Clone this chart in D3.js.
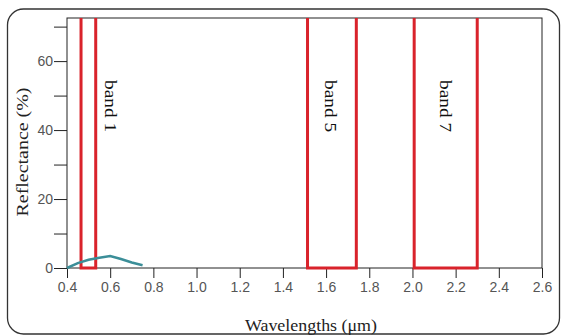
<!DOCTYPE html>
<html>
<head>
<meta charset="utf-8">
<script src="https://cdn.jsdelivr.net/npm/d3@7"></script>
<style>
  body { margin: 0; background: #fff; }
  svg { display: block; }
</style>
</head>
<body>
<div id="wrapper"></div>
<script>
// data
const wavelengths = [0.4, 0.45, 0.5, 0.55, 0.6, 0.65, 0.7, 0.75]
const reflectance = [0, 1.4, 2.4, 3.0, 3.5, 2.6, 1.6, 0.8]
const bandNames = ["band 1", "band 5", "band 7"]
const bandStart = [0.465, 1.514, 2.008]
const bandEnd = [0.533, 1.740, 2.300]
const bandLabelAt = [0.603, 1.622, 2.155]
const xTicks = [0.4, 0.6, 0.8, 1.0, 1.2, 1.4, 1.6, 1.8, 2.0, 2.2, 2.4, 2.6]
const yTicks = [0, 10, 20, 30, 40, 50, 60, 70]

const dimensions = {
    width: 561, height: 336,
    margins: {top: 18, bottom: 68, left: 67, right: 19}
}
dimensions.boundsWidth = dimensions.width - dimensions.margins.left - dimensions.margins.right
dimensions.boundsHeight = dimensions.height - dimensions.margins.top - dimensions.margins.bottom

const wrapper = d3.select("#wrapper").append("svg")
    .attr("width", dimensions.width)
    .attr("height", dimensions.height)

// outer rounded frame
wrapper.append("rect")
    .attr("x", 7.5).attr("y", 9)
    .attr("width", 552).attr("height", 325)
    .attr("rx", 16)
    .attr("fill", "none")
    .attr("stroke", "#333")
    .attr("stroke-width", 1.3)

const bounds = wrapper.append("g")
    .attr("transform", `translate(${dimensions.margins.left},${dimensions.margins.top})`)

// scales
const xScale = d3.scaleLinear()
    .domain([0.4, 2.6])
    .range([0, dimensions.boundsWidth])
const yScale = d3.scaleLinear()
    .domain([0, 72.5])
    .range([dimensions.boundsHeight, 0])

const tickFont = "'Liberation Sans', Arial, sans-serif"
const titleFont = "'Liberation Serif', 'Times New Roman', serif"

// axes
const yAxis = bounds.append("g")
    .call(d3.axisLeft(yScale).tickValues(yTicks).tickSize(13).tickPadding(1)
        .tickFormat(d => d % 20 === 0 ? d : ""))
yAxis.select(".domain").remove()
yAxis.selectAll("line").attr("stroke", "#222")
yAxis.selectAll("text").attr("font-family", tickFont).attr("font-size", 14).attr("fill", "#555")

const xAxis = bounds.append("g")
    .attr("transform", `translate(0,${dimensions.boundsHeight})`)
    .call(d3.axisBottom(xScale).tickValues(xTicks).tickSize(10).tickPadding(4)
        .tickFormat(d3.format(".1f")))
xAxis.select(".domain").remove()
xAxis.selectAll("line").attr("stroke", "#222")
xAxis.selectAll("text").attr("font-family", tickFont).attr("font-size", 14).attr("fill", "#555")

// plot frame
bounds.append("rect")
    .attr("width", dimensions.boundsWidth)
    .attr("height", dimensions.boundsHeight)
    .attr("fill", "none")
    .attr("stroke", "#222")
    .attr("stroke-width", 1)

// bands
const bands = bandNames.map((name, i) => ({name, start: bandStart[i], end: bandEnd[i], label: bandLabelAt[i]}))
bounds.selectAll(".band").data(bands).enter().append("path")
    .attr("class", "band")
    .attr("d", d => `M${xScale(d.start)},${yScale(72.5)}V${yScale(0)}H${xScale(d.end)}V${yScale(72.5)}`)
    .attr("fill", "none")
    .attr("stroke", "#d9232b")
    .attr("stroke-width", 3)

bounds.selectAll(".bandLabel").data(bands).enter().append("text")
    .attr("class", "bandLabel")
    .attr("transform", d => `translate(${xScale(d.label)},${yScale(54.5)}) rotate(90)`)
    .attr("dy", "0.32em")
    .attr("font-family", titleFont)
    .attr("font-size", 17)
    .attr("textLength", 52)
    .attr("lengthAdjust", "spacingAndGlyphs")
    .attr("fill", "#111")
    .text(d => d.name)

// reflectance curve
const points = wavelengths.map((w, i) => ({w, r: reflectance[i]}))
bounds.append("path")
    .datum(points)
    .attr("d", d3.line().x(d => xScale(d.w)).y(d => yScale(d.r)))
    .attr("fill", "none")
    .attr("stroke", "#3b8e98")
    .attr("stroke-width", 2.5)

// axis titles
wrapper.append("text")
    .attr("x", 311).attr("y", 331)
    .attr("text-anchor", "middle")
    .attr("font-family", titleFont)
    .attr("font-size", 17)
    .attr("textLength", 132)
    .attr("lengthAdjust", "spacingAndGlyphs")
    .attr("fill", "#222")
    .text("Wavelengths (\u03bcm)")

wrapper.append("text")
    .attr("transform", "translate(28,152) rotate(-90)")
    .attr("text-anchor", "middle")
    .attr("font-family", titleFont)
    .attr("font-size", 17)
    .attr("textLength", 129)
    .attr("lengthAdjust", "spacingAndGlyphs")
    .attr("fill", "#222")
    .text("Reflectance (%)")
</script>
</body>
</html>
